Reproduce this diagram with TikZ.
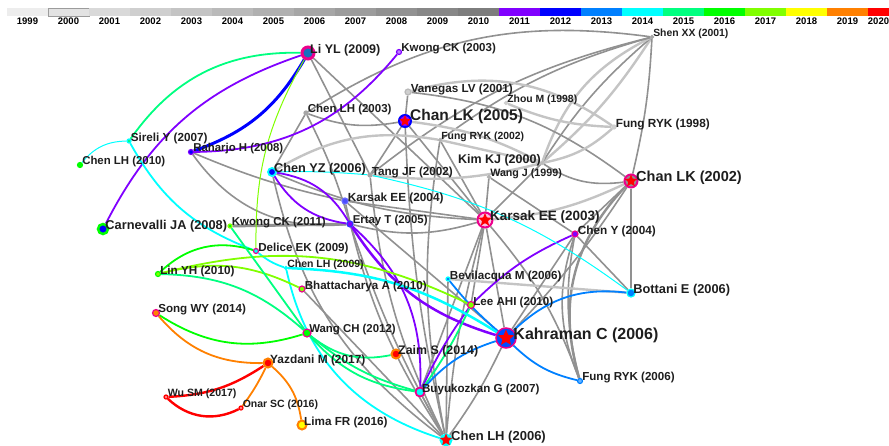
\documentclass[tikz,border=0pt]{standalone}
\usepackage{fontspec}
\setmainfont{Liberation Sans}
\usetikzlibrary{shapes.geometric,backgrounds}

\definecolor{c1999}{HTML}{EDEDED}
\definecolor{c2000}{HTML}{E3E3E3}
\definecolor{c2001}{HTML}{D9D9D9}
\definecolor{c2002}{HTML}{CFCFCF}
\definecolor{c2003}{HTML}{C4C4C4}
\definecolor{c2004}{HTML}{BABABA}
\definecolor{c2005}{HTML}{B0B0B0}
\definecolor{c2006}{HTML}{A6A6A6}
\definecolor{c2007}{HTML}{9C9C9C}
\definecolor{c2008}{HTML}{919191}
\definecolor{c2009}{HTML}{878787}
\definecolor{c2010}{HTML}{7D7D7D}
\definecolor{c2011}{HTML}{8000FF}
\definecolor{c2012}{HTML}{0000FF}
\definecolor{c2013}{HTML}{0080FF}
\definecolor{c2014}{HTML}{00FFFF}
\definecolor{c2015}{HTML}{00FF80}
\definecolor{c2016}{HTML}{00FF00}
\definecolor{c2017}{HTML}{80FF00}
\definecolor{c2018}{HTML}{FFFF00}
\definecolor{c2019}{HTML}{FF8000}
\definecolor{c2020}{HTML}{FF0000}
\definecolor{txt}{HTML}{1E1E1E}

\begin{document}
\begin{tikzpicture}[x=1pt,y=-1pt,
    yrbox/.style={rectangle,inner sep=0pt,minimum width=41pt,minimum height=8pt,fill=#1},
    yr/.style={font=\bfseries\fontsize{9.5}{9.5}\selectfont,inner sep=1pt},
    dot/.style 2 args={circle,inner sep=0pt,minimum size=5pt,line width=1.2pt,draw=#1,fill=#2},
    ring/.style={circle,inner sep=0pt,minimum size=#1,line width=2pt},
    hub/.style={star,star points=5,star point ratio=2.2,inner sep=0pt,minimum size=#1,fill=red},
    lbl/.style={font=\bfseries\fontsize{#1}{#1}\selectfont,text=txt,inner sep=0pt,xshift=-1pt,yshift=3pt},
    lbl/.default=11.6,
    ge/.style={draw=c2008,line width=1.6pt},
    lge/.style={draw=c2003,line width=2.4pt},
    ce/.style={draw=#1,line width=1.8pt},
    fine/.style={line width=1pt}]

  \useasboundingbox (0,0) rectangle (889,445);

  % time slices
  \node[yrbox=c1999, label={[yr]below:1999}] (y1999) at (27.5,12) {};
  \node[yrbox=c2000, draw=c2007, line width=0.8pt, label={[yr]below:2000}] (y2000) at (68.5,12) {};
  \node[yrbox=c2001, label={[yr]below:2001}] (y2001) at (109.5,12) {};
  \node[yrbox=c2002, label={[yr]below:2002}] (y2002) at (150.5,12) {};
  \node[yrbox=c2003, label={[yr]below:2003}] (y2003) at (191.5,12) {};
  \node[yrbox=c2004, label={[yr]below:2004}] (y2004) at (232.5,12) {};
  \node[yrbox=c2005, label={[yr]below:2005}] (y2005) at (273.5,12) {};
  \node[yrbox=c2006, label={[yr]below:2006}] (y2006) at (314.5,12) {};
  \node[yrbox=c2007, label={[yr]below:2007}] (y2007) at (355.5,12) {};
  \node[yrbox=c2008, label={[yr]below:2008}] (y2008) at (396.5,12) {};
  \node[yrbox=c2009, label={[yr]below:2009}] (y2009) at (437.5,12) {};
  \node[yrbox=c2010, label={[yr]below:2010}] (y2010) at (478.5,12) {};
  \node[yrbox=c2011, label={[yr]below:2011}] (y2011) at (519.5,12) {};
  \node[yrbox=c2012, label={[yr]below:2012}] (y2012) at (560.5,12) {};
  \node[yrbox=c2013, label={[yr]below:2013}] (y2013) at (601.5,12) {};
  \node[yrbox=c2014, label={[yr]below:2014}] (y2014) at (642.5,12) {};
  \node[yrbox=c2015, label={[yr]below:2015}] (y2015) at (683.5,12) {};
  \node[yrbox=c2016, label={[yr]below:2016}] (y2016) at (724.5,12) {};
  \node[yrbox=c2017, label={[yr]below:2017}] (y2017) at (765.5,12) {};
  \node[yrbox=c2018, label={[yr]below:2018}] (y2018) at (806.5,12) {};
  \node[yrbox=c2019, label={[yr]below:2019}] (y2019) at (847.5,12) {};
  \node[yrbox=c2020, label={[yr,xshift=-10pt]below:2020}] (y2020) at (888.5,12) {};

  % cited references
  \node[dot={magenta}{cyan!50!blue}, minimum size=12pt, line width=3pt, label={[lbl=12.5,xshift=-4.5pt]right:Li YL (2009)}] (liyl) at (308,53) {};
  \node[dot={c2011}{c2011!50}, label={[lbl=11.5]right:Kwong CK (2003)}] (kwong03) at (399,52) {};
  \node[dot={c2006}{c2006}, minimum size=3pt, label={[lbl=10.4]right:Shen XX (2001)}] (shenxx) at (652,37) {};
  \node[dot={c2004}{c2002}, minimum size=6pt, label={[lbl=11.7]right:Vanegas LV (2001)}] (vanegas) at (408,92) {};
  \node[dot={c2002}{c2002}, minimum size=3pt, label={[lbl=10.4]right:Zhou M (1998)}] (zhoum) at (506,103) {};
  \node[dot={c2006}{c2006}, minimum size=4pt, label={[lbl=11.5]right:Chen LH (2003)}] (chenlh03) at (306,113) {};
  \node[ring=12pt, draw=c2012, fill=c2012!40!magenta, label={[lbl=15.5,xshift=-1pt,yshift=2pt]right:Chan LK (2005)}] (chanlk05) at (405,121) {};
  \node[hub=12pt] (chanlk05-s) at (chanlk05) {};
  \node[dot={c2005}{c2005}, minimum size=3pt, label={[lbl=10.4]right:Fung RYK (2002)}] (fung02) at (440,140) {};
  \node[dot={c2002}{c2002}, minimum size=4pt, label={[lbl=11.8]right:Fung RYK (1998)}] (fung98) at (614,127) {};
  \node[dot={c2014}{c2015}, minimum size=4pt, label={[lbl=11.7]right:Sireli Y (2007)}] (sireli) at (129,141) {};
  \node[dot={c2016}{c2016}, label={[lbl=11.4]right:Chen LH (2010)}] (chenlh10) at (80,165) {};
  \node[dot={c2011}{c2012}, label={[lbl=11.4]right:Raharjo H (2008)}] (raharjo) at (191,152) {};
  \node[dot={c2004}{c2004}, minimum size=3pt, label={[lbl=12.5,xshift=2pt]left:Kim KJ (2000)}] (kimkj) at (542,163) {};
  \node[dot={c2005}{c2005}, minimum size=3pt, label={[lbl=10.7]right:Wang J (1999)}] (wangj) at (489,177) {};
  \node[dot={c2006}{c2006}, minimum size=4pt, label={[lbl=11.7]right:Tang JF (2002)}] (tangjf) at (370,175) {};
  \node[dot={c2014}{c2012}, minimum size=8pt, line width=1.8pt, label={[lbl=12.7,xshift=-2pt]right:Chen YZ (2006)}] (chenyz) at (272,172) {};
  \node[ring=13pt, draw=magenta, fill=c2008, label={[lbl=14.5,xshift=-1.5pt]right:Chan LK (2002)}] (chanlk02) at (631,181) {};
  \node[hub=13pt] (chanlk02-s) at (chanlk02) {};
  \node[dot={c2012!60}{c2012!70}, minimum size=6pt, label={[lbl=11.8]right:Karsak EE (2004)}] (karsak04) at (345,201) {};
  \node[ring=15pt, draw=magenta, fill=magenta!25, label={[lbl=13.5,xshift=-2.5pt]right:Karsak EE (2003)}] (karsak03) at (485,220) {};
  \node[hub=14pt] (karsak03-s) at (karsak03) {};
  \node[dot={c2012!80}{c2011}, minimum size=6pt, label={[lbl=11.4]right:Ertay T (2005)}] (ertay) at (350,224) {};
  \node[dot={c2016}{c2012}, minimum size=10pt, line width=2.5pt, label={[lbl=12.8,xshift=-3pt]right:Carnevalli JA (2008)}] (carnevalli) at (103,229) {};
  \node[dot={c2017}{c2016}, minimum size=4pt, label={[lbl=11.5]right:Kwong CK (2011)}] (kwong11) at (230,226) {};
  \node[dot={magenta}{c2011}, minimum size=6pt, label={[lbl=11.8]right:Chen Y (2004)}] (cheny) at (575,234) {};
  \node[dot={magenta}{c2014}, label={[lbl=11.6]right:Delice EK (2009)}] (delice) at (256,251) {};
  \node[dot={c2014}{c2014}, minimum size=3pt, label={[lbl=10.5]right:Chen LH (2009)}] (chenlh09) at (286,268) {};
  \node[dot={c2016}{c2017}, label={[lbl=11.7]right:Lin YH (2010)}] (linyh) at (158,274) {};
  \node[dot={magenta}{c2017}, minimum size=6pt, label={[lbl=11.6]right:Bhattacharya A (2010)}] (bhatta) at (302,289) {};
  \node[dot={c2014}{c2013}, minimum size=8pt, label={[lbl=12.8,xshift=-1.5pt]right:Bottani E (2006)}] (bottani) at (631,293) {};
  \node[dot={c2014}{c2013}, minimum size=4pt, label={[lbl=11.7]right:Bevilacqua M (2006)}] (bevilacqua) at (448,279) {};
  \node[dot={magenta}{c2017}, minimum size=7pt, label={[lbl=11.6,xshift=-1pt]right:Lee AHI (2010)}] (leeahi) at (471,305) {};
  \node[dot={magenta}{c2019}, minimum size=7pt, label={[lbl=11.6,xshift=-1pt]right:Song WY (2014)}] (songwy) at (156,313) {};
  \node[ring=20pt, draw=magenta, line width=1.5pt, fill=c2012!70!c2014, label={[lbl=16,xshift=-2.5pt]right:Kahraman C (2006)}] (kahraman) at (506,338) {};
  \node[hub=17pt] (kahraman-s) at (kahraman) {};
  \node[dot={magenta}{c2016}, minimum size=8pt, label={[lbl=11.4,xshift=-1.5pt]right:Wang CH (2012)}] (wangch) at (307,333) {};
  \node[dot={c2019}{c2020}, minimum size=9pt, line width=2pt, label={[lbl=12.4,xshift=-2.5pt]right:Zaim S (2014)}] (zaims) at (396,354) {};
  \node[dot={c2019}{c2020}, minimum size=9pt, line width=2pt, label={[lbl=11.9,xshift=-2.5pt]right:Yazdani M (2017)}] (yazdani) at (268,363) {};
  \node[dot={magenta}{c2014}, minimum size=9pt, line width=1.8pt, label={[lbl=11.6,xshift=-2.5pt]right:Buyukozkan G (2007)}] (buyuk) at (420,392) {};
  \node[dot={c2013}{c2013!60}, label={[lbl=11.6]right:Fung RYK (2006)}] (fung06) at (580,381) {};
  \node[dot={c2020}{c2020!50}, minimum size=4pt, label={[lbl=10.6]right:Wu SM (2017)}] (wusm) at (166,397) {};
  \node[dot={c2020}{c2020!50}, minimum size=4pt, label={[lbl=10.5]right:Onar SC (2016)}] (onarsc) at (241,408) {};
  \node[dot={c2019}{c2018}, minimum size=9pt, line width=2pt, label={[lbl=11.7,xshift=-2.5pt]right:Lima FR (2016)}] (limafr) at (302,425) {};
  \node[ring=11pt, draw=c2014, fill=c2014, label={[lbl=13,xshift=-0.5pt]right:Chen LH (2006)}] (chenlh06) at (446,440) {};
  \node[hub=13pt] (chenlh06-s) at (chenlh06) {};

  % co-citation links
  \begin{scope}[on background layer]
  \path
  (chenlh03) edge [ge, bend left=20]  (shenxx)
  (liyl) edge [ge]                    (tangjf)
  (liyl) edge [ge]                    (karsak03)
  (shenxx) edge [lge, bend left=8]    (kimkj)
  (shenxx) edge [ge, bend right=8]    (kimkj)
  (shenxx) edge [lge, bend right=22]  (kimkj)
  (shenxx) edge [ge, bend right=10]   (fung02)
  (shenxx) edge [ge, bend right=12]   (tangjf)
  (shenxx) edge [ge, bend left=5]     (chanlk02)
  (vanegas) edge [lge, bend left=25]  (fung98)
  (vanegas) edge [ge, bend left=15]   (chanlk02)
  (vanegas) edge [ge]                 (chanlk05)
  (zhoum) edge [lge, bend right=10]   (fung98)
  (kimkj) edge [lge, bend right=15]   (fung98)
  (chenlh03) edge [ge, bend right=15] (chanlk05)
  (chenlh03) edge [ge]                (chenyz)
  (chenlh03) edge [ge, bend left=5]   (ertay)
  (chanlk05) edge [ge]                (karsak03)
  (chanlk05) edge [ge, bend right=5]  (chenlh06)
  (chanlk05) edge [lge, bend left=10] (kimkj)
  (chanlk05) edge [ge]                (tangjf)
  (fung02) edge [ge]                  (karsak03)
  (fung02) edge [lge]                 (kimkj)
  (fung02) edge [ge, bend right=10]   (chenlh06)
  (fung02) edge [lge, bend right=20]  (chenyz)
  (kimkj) edge [ge]                   (karsak03)
  (kimkj) edge [ge, bend right=20]    (chanlk02)
  (kimkj) edge [lge, bend left=10]    (tangjf)
  (wangj) edge [ge]                   (karsak03)
  (wangj) edge [ge]                   (cheny)
  (chanlk02) edge [lge, bend left=10] (karsak03)
  (chanlk02) edge [ge]                (cheny)
  (chanlk02) edge [ge, bend left=5]   (kahraman)
  (chanlk02) edge [ge]                (bottani)
  (chanlk02) edge [ge, line width=2.4pt, bend right=30] (fung06)
  (cheny) edge [ge, bend right=20]    (fung06)
  (cheny) edge [ge, bend right=12]    (fung06)
  (cheny) edge [ge]                   (bottani)
  (karsak03) edge [ge, bend left=10]  (chenyz)
  (karsak03) edge [ge]                (karsak04)
  (karsak03) edge [ge, bend left=15]  (ertay)
  (karsak03) edge [ge]                (kahraman)
  (karsak03) edge [ge, bend right=5]  (chenlh06)
  (karsak03) edge [ge]                (buyuk)
  (karsak03) edge [ge]                (leeahi)
  (karsak03) edge [ge, bend left=10]  (fung06)
  (chenyz) edge [ge, bend right=20]   (chenlh06)
  (raharjo) edge [ge, bend right=30]  (ertay)
  (raharjo) edge [ge, bend right=5]   (karsak04)
  (kwong11) edge [ge, line width=3pt] (ertay)
  (ertay) edge [ge, bend right=5]     (chenlh06)
  (karsak04) edge [ge, bend right=10] (chenlh06)
  (karsak04) edge [ge]                (kahraman)
  (bhatta) edge [ge]                  (chenlh06)
  (bevilacqua) edge [lge]             (bottani)
  (bevilacqua) edge [ge]              (chenlh06)
  (kahraman) edge [ge, bend left=5]   (chenlh06)
  (kahraman) edge [ge]                (cheny)
  (buyuk) edge [ge]                   (chenlh06)
  (tangjf) edge [ge, bend right=10]   (chenlh06);

  \path
  (liyl) edge [ce=c2015, bend right=28]                  (sireli)
  (liyl) edge [ce=c2011, bend right=22]                  (carnevalli)
  (liyl) edge [ce=c2012, line width=3pt, bend left=20]   (raharjo)
  (liyl) edge [ce=c2017, fine, bend right=15]            (delice)
  (sireli) edge [ce=c2014, fine, bend right=25]          (chenlh10)
  (sireli) edge [ce=c2014, bend right=20]                (delice)
  (delice) edge [ce=c2014, bend right=10]                (chenlh09)
  (raharjo) edge [ce=c2011, bend right=25]               (kwong03)
  (chenyz) edge [ce=c2014, fine, bend left=3]            (tangjf)
  (chenyz) edge [ce=c2011, bend right=25]                (ertay)
  (chenyz) edge [ce=c2011, bend left=25]                 (ertay)
  (ertay) edge [ce=c2011, line width=2.5pt, bend right=20] (kahraman)
  (ertay) edge [ce=c2011, bend left=25]                  (buyuk)
  (buyuk) edge [ce=c2011, bend left=5]                   (leeahi)
  (buyuk) edge [ce=c2015, bend right=5]                  (leeahi)
  (leeahi) edge [ce=c2011, bend left=10]                 (cheny)
  (buyuk) edge [ce=c2013, bend left=15]                  (kahraman)
  (kahraman) edge [ce=c2013, bend left=25]               (bottani)
  (kahraman) edge [ce=c2013, bend right=15]              (fung06)
  (bevilacqua) edge [ce=c2013, bend right=5]             (kahraman)
  (tangjf) edge [ce=c2014, fine, bend left=12]           (bottani)
  (chenlh09) edge [ce=c2014, bend right=30]              (chenlh06)
  (chenlh09) edge [ce=c2014, line width=2.5pt, bend left=15] (kahraman)
  (linyh) edge [ce=c2017, bend left=20]                  (bhatta)
  (linyh) edge [ce=c2017, bend left=20]                  (leeahi)
  (delice) edge [ce=c2016, bend right=30]                (linyh)
  (linyh) edge [ce=c2015, bend left=20]                  (wangch)
  (songwy) edge [ce=c2016, bend right=25]                (wangch)
  (songwy) edge [ce=c2019, bend right=25]                (yazdani)
  (kwong11) edge [ce=c2015]                              (wangch)
  (wangch) edge [ce=c2015, bend right=25]                (zaims)
  (wangch) edge [ce=c2015, bend right=12]                (buyuk)
  (wangch) edge [ce=c2015, bend right=20]                (buyuk)
  (yazdani) edge [ce=c2020, line width=2.4pt, bend left=15]  (wusm)
  (wusm) edge [ce=c2020, line width=2.4pt, bend right=35]    (onarsc)
  (yazdani) edge [ce=c2019, bend left=5]                 (onarsc)
  (yazdani) edge [ce=c2019, bend left=20]                (limafr);
  \end{scope}
\end{tikzpicture}
\end{document}
